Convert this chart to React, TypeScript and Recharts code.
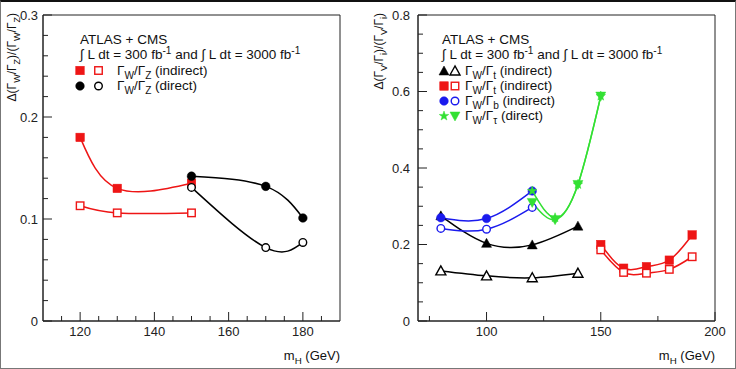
import React from "react";
import { LineChart, Line, XAxis, YAxis, ReferenceArea } from "recharts";

// left panel: Gamma_W / Gamma_Z
const zIndirectMass = [120, 130, 150];
const zIndirect300 = [0.18, 0.13, 0.135];
const zIndirect3000 = [0.113, 0.106, 0.106];
const zDirectMass = [150, 170, 180];
const zDirect300 = [0.142, 0.132, 0.101];
const zDirect3000 = [0.131, 0.072, 0.077];

// right panel: Gamma_V / Gamma_i
const tLowMass = [80, 100, 120, 140];
const tLow300 = [0.275, 0.203, 0.199, 0.248];
const tLow3000 = [0.131, 0.118, 0.113, 0.125];
const tHighMass = [150, 160, 170, 180, 190];
const tHigh300 = [0.2, 0.138, 0.142, 0.159, 0.225];
const tHigh3000 = [0.186, 0.127, 0.125, 0.135, 0.168];
const bMass = [80, 100, 120];
const b300 = [0.27, 0.268, 0.34];
const b3000 = [0.242, 0.24, 0.297];
const tauMass = [120, 130, 140, 150];
const tau300 = [0.34, 0.27, 0.357, 0.588];
const tau3000 = [0.31, 0.265, 0.357, 0.588];

// axes
const leftXTicks = [115, 120, 125, 130, 135, 140, 145, 150, 155, 160, 165, 170, 175, 180, 185];
const leftXLabels = [120, 140, 160, 180];
const leftYTicks = Array.from({ length: 16 }, (_, i) => +(i * 0.02).toFixed(2));
const leftYLabels = [0, 0.1, 0.2, 0.3];
const rightXTicks = [75, 100, 125, 150, 175, 200];
const rightXLabels = [100, 150, 200];
const rightYTicks = Array.from({ length: 17 }, (_, i) => +(i * 0.05).toFixed(2));
const rightYLabels = [0, 0.2, 0.4, 0.6, 0.8];

const FONT = '"Liberation Sans", Arial, Helvetica, sans-serif';
const RED = "#ee1515";
const BLUE = "#1a1aee";
const GREEN = "#33e033";
const BLACK = "#000";
const AXIS = "#222";
const TICK_FS = 13;
const LEG_FS = 13.5;

const pts = (xs: number[], ys: number[]) => xs.map((m, i) => ({ m, v: ys[i] }));
const isIn = (list: number[], v: number) => list.some((l) => Math.abs(l - v) < 1e-9);

type Shape = "square" | "circle" | "tri" | "triDown" | "star";

function Marker({ shape, cx, cy, color, filled }: { shape: Shape; cx: number; cy: number; color: string; filled: boolean }) {
  const fill = filled ? color : "#fff";
  const sw = filled ? 0.5 : 1.4;
  if (shape === "square") {
    const s = filled ? 8.5 : 7.5;
    return <rect x={cx - s / 2} y={cy - s / 2} width={s} height={s} fill={fill} stroke={color} strokeWidth={sw} />;
  }
  if (shape === "circle") {
    return <circle cx={cx} cy={cy} r={filled ? 4.3 : 3.8} fill={fill} stroke={color} strokeWidth={sw} />;
  }
  if (shape === "tri") {
    return <polygon points={`${cx},${cy - 5} ${cx - 5},${cy + 4} ${cx + 5},${cy + 4}`} fill={fill} stroke={color} strokeWidth={sw} />;
  }
  if (shape === "triDown") {
    return <polygon points={`${cx - 5},${cy - 4} ${cx + 5},${cy - 4} ${cx},${cy + 5}`} fill={fill} stroke={color} strokeWidth={sw} />;
  }
  const p: string[] = [];
  for (let i = 0; i < 10; i++) {
    const r = i % 2 === 0 ? 5 : 2;
    const a = -Math.PI / 2 + (i * Math.PI) / 5;
    p.push(`${cx + r * Math.cos(a)},${cy + r * Math.sin(a)}`);
  }
  return <polygon points={p.join(" ")} fill={color} stroke={color} strokeWidth={0.5} />;
}

const dotFor = (id: string, shape: Shape, color: string, filled: boolean) => (p: any) => (
  <Marker key={`${id}-${p.index}`} shape={shape} cx={p.cx} cy={p.cy} color={color} filled={filled} />
);

const makeYTick = (labels: number[], gap: number) => (p: any) => {
  const v = p.payload.value;
  const major = isIn(labels, v);
  return (
    <g key={`y-${v}`}>
      <line x1={p.x} y1={p.y} x2={p.x + (major ? 9 : 5)} y2={p.y} stroke={AXIS} strokeWidth={1} />
      {major && (
        <text x={p.x - gap} y={p.y + 4.5} textAnchor="end" fontSize={TICK_FS} fill="#222" fontFamily={FONT}>
          {String(v)}
        </text>
      )}
    </g>
  );
};

const makeXTick = (labels: number[]) => (p: any) => {
  const v = p.payload.value;
  const major = isIn(labels, v);
  return (
    <g key={`x-${v}`}>
      <line x1={p.x} y1={p.y} x2={p.x} y2={p.y - (major ? 9 : 5)} stroke={AXIS} strokeWidth={1} />
      {major && (
        <text x={p.x} y={p.y + 15} textAnchor="middle" fontSize={TICK_FS} fill="#222" fontFamily={FONT}>
          {v}
        </text>
      )}
    </g>
  );
};

type Seg = { t: string; s?: "sub" | "sup" };

function Rich({ segs, size }: { segs: Seg[]; size: number }) {
  let cur = 0;
  return (
    <>
      {segs.map((g, i) => {
        const target = g.s === "sub" ? 3.5 : g.s === "sup" ? -5 : 0;
        const dy = target - cur;
        cur = target;
        return (
          <tspan key={i} dy={dy} fontSize={g.s ? size * 0.75 : size}>
            {g.t}
          </tspan>
        );
      })}
    </>
  );
}

const lumiSegs: Seg[] = [
  { t: "∫ L dt = 300 fb" },
  { t: "-1", s: "sup" },
  { t: " and ∫ L dt = 3000 fb" },
  { t: "-1", s: "sup" },
];

const ratio = (a: string, b: string, tail: string): Seg[] => [
  { t: "Γ" },
  { t: a, s: "sub" },
  { t: "/Γ" },
  { t: b, s: "sub" },
  { t: tail },
];

const massTitle: Seg[] = [{ t: "m" }, { t: "H", s: "sub" }, { t: " (GeV)" }];

const lineProps = {
  type: "natural" as const,
  dataKey: "v",
  strokeWidth: 1.5,
  isAnimationActive: false,
  activeDot: false as const,
  legendType: "none" as const,
};

function Overlay() {
  const txt = { fontFamily: FONT, fill: "#111" };
  return (
    <svg width={736} height={369} style={{ position: "absolute", left: 0, top: 0, pointerEvents: "none" }}>
      {/* left annotations */}
      <text x={80} y={44} {...txt}><Rich segs={[{ t: "ATLAS + CMS" }]} size={LEG_FS} /></text>
      <text x={80} y={59} {...txt}><Rich segs={lumiSegs} size={LEG_FS} /></text>
      <Marker shape="square" cx={80} cy={70.5} color={RED} filled />
      <Marker shape="square" cx={98.5} cy={70.5} color={RED} filled={false} />
      <text x={117} y={75} {...txt}><Rich segs={ratio("W", "Z", " (indirect)")} size={LEG_FS} /></text>
      <Marker shape="circle" cx={80} cy={86} color={BLACK} filled />
      <Marker shape="circle" cx={98.5} cy={86} color={BLACK} filled={false} />
      <text x={117} y={90} {...txt}><Rich segs={ratio("W", "Z", " (direct)")} size={LEG_FS} /></text>
      <text transform="translate(16,13) rotate(-90)" textAnchor="end" {...txt}>
        <Rich size={12} segs={[{ t: "Δ(Γ" }, { t: "W", s: "sub" }, { t: "/Γ" }, { t: "Z", s: "sub" }, { t: ")/(Γ" }, { t: "W", s: "sub" }, { t: "/Γ" }, { t: "Z", s: "sub" }, { t: ")" }]} />
      </text>
      <text x={340} y={360} textAnchor="end" {...txt}>
        <Rich segs={massTitle} size={TICK_FS} />
      </text>

      {/* right annotations */}
      <text x={442} y={44} {...txt}><Rich segs={[{ t: "ATLAS + CMS" }]} size={LEG_FS} /></text>
      <text x={442} y={59} {...txt}><Rich segs={lumiSegs} size={LEG_FS} /></text>
      <Marker shape="tri" cx={444} cy={71} color={BLACK} filled />
      <Marker shape="tri" cx={455} cy={71} color={BLACK} filled={false} />
      <text x={465} y={75} {...txt}><Rich segs={ratio("W", "t", " (indirect)")} size={LEG_FS} /></text>
      <Marker shape="square" cx={444} cy={86} color={RED} filled />
      <Marker shape="square" cx={455} cy={86} color={RED} filled={false} />
      <text x={465} y={90} {...txt}><Rich segs={ratio("W", "t", " (indirect)")} size={LEG_FS} /></text>
      <Marker shape="circle" cx={444} cy={101} color={BLUE} filled />
      <Marker shape="circle" cx={455} cy={101} color={BLUE} filled={false} />
      <text x={465} y={105} {...txt}><Rich segs={ratio("W", "b", " (indirect)")} size={LEG_FS} /></text>
      <Marker shape="star" cx={444} cy={116} color={GREEN} filled />
      <Marker shape="triDown" cx={455} cy={116} color={GREEN} filled />
      <text x={465} y={120} {...txt}><Rich segs={ratio("W", "τ", " (direct)")} size={LEG_FS} /></text>
      <text transform="translate(383,13) rotate(-90)" textAnchor="end" {...txt}>
        <Rich size={12} segs={[{ t: "Δ(Γ" }, { t: "V", s: "sub" }, { t: "/Γ" }, { t: "i", s: "sub" }, { t: ")/(Γ" }, { t: "V", s: "sub" }, { t: "/Γ" }, { t: "i", s: "sub" }, { t: ")" }]} />
      </text>
      <text x={715} y={360} textAnchor="end" {...txt}>
        <Rich segs={massTitle} size={TICK_FS} />
      </text>
    </svg>
  );
}

export default function App() {
  return (
    <div style={{ position: "fixed", left: 0, top: 0, width: 736, height: 369, background: "#fff", fontFamily: FONT }}>
      <div style={{ position: "absolute", left: 0, top: 0 }}>
        <LineChart width={368} height={369} margin={{ top: 15, right: 28, left: 0, bottom: 0 }}>
          <XAxis
            type="number"
            dataKey="m"
            domain={[110, 190]}
            ticks={leftXTicks}
            interval={0}
            allowDataOverflow
            height={48}
            tickSize={0}
            tickMargin={0}
            tickLine={false}
            axisLine={{ stroke: AXIS }}
            tick={makeXTick(leftXLabels)}
          />
          <YAxis
            type="number"
            domain={[0, 0.3]}
            ticks={leftYTicks}
            interval={0}
            allowDataOverflow
            width={43}
            tickSize={0}
            tickMargin={0}
            tickLine={false}
            axisLine={{ stroke: AXIS }}
            tick={makeYTick(leftYLabels, 5)}
          />
          <ReferenceArea x1={110} x2={190} y1={0} y2={0.3} fill="none" stroke={AXIS} strokeWidth={1} />
          <Line {...lineProps} data={pts(zIndirectMass, zIndirect300)} stroke={RED} dot={dotFor("zi3", "square", RED, true)} />
          <Line {...lineProps} data={pts(zIndirectMass, zIndirect3000)} stroke={RED} dot={dotFor("zi30", "square", RED, false)} />
          <Line {...lineProps} data={pts(zDirectMass, zDirect300)} stroke={BLACK} dot={dotFor("zd3", "circle", BLACK, true)} />
          <Line {...lineProps} data={pts(zDirectMass, zDirect3000)} stroke={BLACK} dot={dotFor("zd30", "circle", BLACK, false)} />
        </LineChart>
      </div>
      <div style={{ position: "absolute", left: 366, top: 0 }}>
        <LineChart width={370} height={369} margin={{ top: 15, right: 21, left: 0, bottom: 0 }}>
          <XAxis
            type="number"
            dataKey="m"
            domain={[70, 200]}
            ticks={rightXTicks}
            interval={0}
            allowDataOverflow
            height={48}
            tickSize={0}
            tickMargin={0}
            tickLine={false}
            axisLine={{ stroke: AXIS }}
            tick={makeXTick(rightXLabels)}
          />
          <YAxis
            type="number"
            domain={[0, 0.8]}
            ticks={rightYTicks}
            interval={0}
            allowDataOverflow
            width={52}
            tickSize={0}
            tickMargin={0}
            tickLine={false}
            axisLine={{ stroke: AXIS }}
            tick={makeYTick(rightYLabels, 8)}
          />
          <ReferenceArea x1={70} x2={200} y1={0} y2={0.8} fill="none" stroke={AXIS} strokeWidth={1} />
          <Line {...lineProps} data={pts(tLowMass, tLow300)} stroke={BLACK} dot={dotFor("tl3", "tri", BLACK, true)} />
          <Line {...lineProps} data={pts(tLowMass, tLow3000)} stroke={BLACK} dot={dotFor("tl30", "tri", BLACK, false)} />
          <Line {...lineProps} data={pts(tHighMass, tHigh300)} stroke={RED} dot={dotFor("th3", "square", RED, true)} />
          <Line {...lineProps} data={pts(tHighMass, tHigh3000)} stroke={RED} dot={dotFor("th30", "square", RED, false)} />
          <Line {...lineProps} data={pts(bMass, b300)} stroke={BLUE} dot={dotFor("b3", "circle", BLUE, true)} />
          <Line {...lineProps} data={pts(bMass, b3000)} stroke={BLUE} dot={dotFor("b30", "circle", BLUE, false)} />
          <Line {...lineProps} data={pts(tauMass, tau300)} stroke={GREEN} dot={dotFor("ta3", "star", GREEN, true)} />
          <Line {...lineProps} data={pts(tauMass, tau3000)} stroke={GREEN} dot={dotFor("ta30", "triDown", GREEN, true)} />
        </LineChart>
      </div>
      <Overlay />
      <div
        style={{
          position: "absolute",
          left: 0,
          top: 0,
          width: 736,
          height: 369,
          boxSizing: "border-box",
          border: "1px solid #777",
          borderTop: "2px solid #111",
          pointerEvents: "none",
        }}
      />
    </div>
  );
}
